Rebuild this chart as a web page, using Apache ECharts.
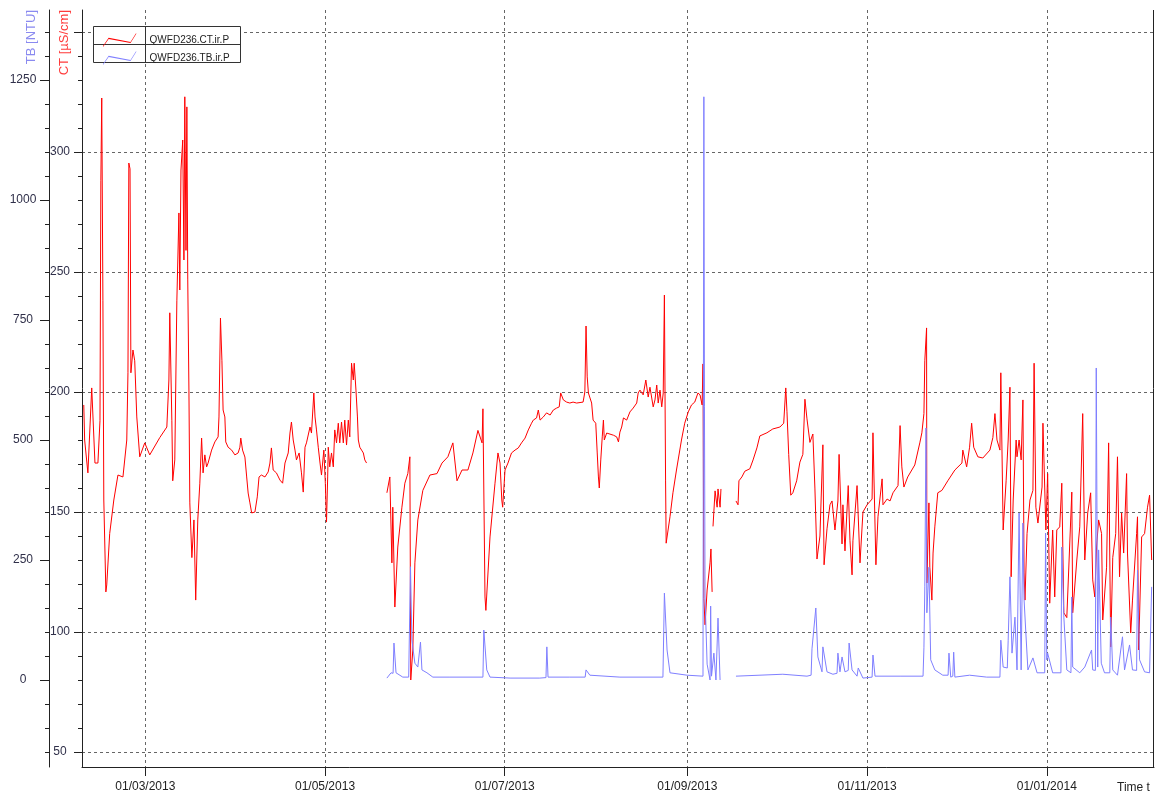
<!DOCTYPE html>
<html>
<head>
<meta charset="utf-8">
<script src="https://cdn.jsdelivr.net/npm/echarts@6/dist/echarts.min.js"></script>
<style>
html, body { margin: 0; padding: 0; background: #fff; }
#main { width: 1157px; height: 793px; }
</style>
</head>
<body>
<div id="main"></div>
<script>
// x values: days counted from 01/03/2013
var ctPoints = [
    [-20.9,194.6],[-20.6,180],[-19.5,166.3],[-18.2,201.7],[-17.1,170.4],[-16.1,170.4],[-15.4,188],[-15.1,288],[-14.8,322.5],
    [-14.4,238],[-14.1,155],[-13.4,116.7],[-13.1,119.6],[-12.1,141],[-10.7,155],[-9.3,165.4],[-7.6,164.6],[-6.3,180],
    [-5.9,208],[-5.6,295.4],[-5.2,293],[-4.9,208],[-4.2,217.5],[-3.6,213],[-2.9,189.6],[-1.9,173],[-0.2,178.8],[1.5,173.8],
    [4.9,181],[7.3,185.4],[8.0,205],[8.3,233],[9.0,188],[9.3,163],[10.0,171.7],[10.7,238],[11.4,274.6],[11.7,242.5],
    [12.1,292.5],[12.7,305],[13.1,255],[13.4,323],[13.8,259],[14.1,318.8],[14.4,246.7],[14.8,200.8],[15.1,153.8],[15.8,131],
    [16.5,146.7],[17.1,113.3],[17.8,146.7],[18.5,162],[19.1,180.8],[19.6,166.3],[20.2,173.8],[20.8,168.8],[21.3,170.4],
    [22.5,175.8],[23.6,179.2],[24.7,181.3],[25.0,189.6],[25.5,230.8],[26.0,213],[26.4,192.5],[27.0,189.6],[27.3,179.2],
    [28.1,177],[29.3,175.8],[30.4,173.8],[31.5,174.6],[32.1,177],[32.4,180.8],[33.0,175.8],[33.8,172.9],[34.4,164.6],
    [34.9,157.9],[35.5,153.8],[36.1,149.6],[37.2,150],[38.0,156.3],[38.6,164.6],[39.4,165.4],[40.6,164.6],[41.7,166.7],
    [42.3,170.4],[42.8,176.7],[43.4,167.5],[44.5,166.3],[45.7,163.3],[46.6,162],[47.4,170.4],[48.5,174.6],[49.1,182.9],
    [49.6,187.5],[50.2,180],[50.8,175.8],[51.3,171.7],[52.2,174.6],[53.0,166.3],[53.6,158.3],[54.2,177],[54.7,178.8],
    [55.9,185.4],[56.4,182.9],[57.2,199.6],[57.6,189.6],[58.1,184.2],[58.7,177],[59.3,170.4],[59.8,165.4],[60.6,175.8],
    [61.1,162],[61.5,145.8],[61.9,164.6],[62.1,177],[62.6,168.8],[63.2,174.6],[63.8,168.8],[64.3,184.2],[64.9,178.8],
    [65.5,187],[66.0,178.8],[66.6,187.5],[67.2,178.8],[67.7,188.3],[68.3,177.9],[68.9,188.3],[69.4,181.3],[70.0,212],
    [70.6,205],[70.9,212],[71.5,200.8],[72.0,189.6],[72.3,180],[72.8,177],[73.4,175.8],[74.0,174.6],[74.5,171.7],
    [75.1,170.4],[78,null],
    [82.0,158],[83.0,164.6],[83.7,128.8],[84.0,152],[84.7,110.4],[85.7,135.4],[87.1,152],[88.1,162],[89.1,166],[89.8,173],
    [90.1,80],[90.8,92.5],[91.5,128.8],[92.5,146.7],[94.2,159],[96.6,165.4],[99.0,166],[100.7,170.4],[102.7,173],[104.4,178.8],
    [105.8,163],[107.5,167.5],[109.5,167.5],[111.2,174.6],[112.9,184],[114.3,178.8],[114.6,193],[115.3,114.6],[115.6,109],
    [117.0,139.6],[118.7,162],[119.7,174.6],[120.4,170.4],[121.0,155],[121.3,152],[122.1,167.5],[123.1,170.4],[124.3,174.6],
    [125.5,175.8],[126.6,176.7],[127.7,178.8],[128.9,180.8],[130.0,184.2],[131.1,187],[131.7,188.3],[132.8,189.2],[133.4,192.5],
    [134.0,188.3],[135.1,189.6],[136.2,191.3],[137.4,190.4],[138.5,192.5],[139.6,193.3],[140.5,193.8],[141.0,199.6],
    [141.9,196.7],[143.0,195.8],[144.1,195.4],[145.2,195.8],[146.4,195.4],[148.6,195.8],[149.2,200],[149.6,227.5],
    [150.0,206.3],[150.4,199.6],[150.9,200],[151.5,195.4],[152.0,188.3],[152.9,187],[153.4,174.6],[153.8,164.6],[154.1,160],
    [154.6,171.7],[155.1,181.3],[155.5,188.3],[155.8,180],[156.6,182.9],[158.9,182],[160.0,181.3],[160.6,179.2],[161.1,183.3],
    [161.7,185.4],[162.3,189.2],[163.4,188.3],[164.5,191.7],[165.6,193.3],[166.8,195.4],[167.3,199.6],[167.9,200.8],
    [169.0,198.8],[169.9,205],[170.7,197.9],[171.3,202],[172.4,193.8],[173.0,196.7],[173.6,202.9],[174.1,195.4],[174.7,200.8],
    [175.3,193.8],[175.8,199.6],[176.2,240.4],[176.6,163.3],[176.8,137],[178.1,148],[179.1,158],[180.3,167.5],[182.0,180],
    [183.1,187],[184.3,191.7],[185.4,194.6],[186.5,195.8],[187.6,199.6],[188.3,198.8],[189.0,194.6],[189.3,211.7],[189.6,114],
    [190.0,103],[190.7,117.5],[191.7,128.8],[192.0,134.6],[192.4,116.7],[192.55,null],[192.7,144],[193.4,158.8],[194.1,152],
    [194.4,159.6],[195.1,152],[195.4,159.6],[198,null],
    [200.5,154.6],[201.2,153],[201.5,163],[202.5,164.6],[203.5,167],[205.2,168],[206.3,171.7],[207.6,176.7],[208.6,181.7],
    [211.0,183],[213.0,184.6],[215.4,185.4],[216.7,187],[217.4,201.7],[217.8,192],[218.4,174],[219.1,157],[219.8,158],
    [221.1,163],[222.2,170.8],[223.2,174],[223.9,197],[224.6,188.8],[225.6,179],[226.6,182.5],[227.3,159.6],[228.0,130.4],
    [229.0,140],[230.0,178],[230.4,128],[231.4,143],[232.4,153],[233.1,154.6],[234.1,142.5],[235.1,154.6],[235.5,174],
    [236.5,136.7],[236.8,153],[237.5,133.8],[238.6,161],[239.2,138],[239.9,123.8],[240.2,138],[241.6,161],[242.6,128.8],
    [243.6,150],[245.0,153],[246.7,155.4],[247.0,183],[248.0,128],[248.7,148],[250.1,163.8],[250.4,153],[251.8,155.4],
    [252.8,154.6],[253.8,158],[255.5,161],[256.2,186],[256.8,168.8],[257.5,160.4],[258.8,164.6],[261.2,169.6],[262.9,178.8],
    [263.6,183],[264.3,191],[264.6,213],[265.2,226.7],[265.3,120.4],[266.0,153.8],[266.3,127],[267.0,113.3],[267.4,132.9],
    [268.0,143.8],[269.0,158],[270.4,159],[272.4,163],[274.8,167.5],[277.2,170.4],[277.5,175.8],[278.8,168.8],[279.8,177],
    [280.5,187],[281.2,177],[282.6,173],[284.3,172.5],[286.7,175.8],[287.7,181],[288.4,191],[289.1,180],[290.1,175.8],
    [290.4,208],[291.2,142.5],[292.2,163],[292.9,180],[293.5,202],[293.9,123],[294.6,155],[295.6,180],[295.9,173],[296.6,180],
    [297.3,171.7],[297.9,196.7],[298.3,124.6],[298.6,113.3],[299.3,141],[300.3,155],[301.3,159],[301.7,212],[302.3,152],
    [303.0,145.4],[304.4,160.4],[304.7,187],[305.7,142.5],[306.3,166],[307.0,112],[308.0,142.5],[308.7,114.6],[309.4,142.5],
    [310.4,143.8],[311.1,162],[311.8,108],[312.8,106],[314.5,158.3],[314.8,108],[316.2,130],[317.2,143.8],[318.2,191],
    [318.9,130],[319.9,149.6],[320.9,158],[321.6,121.7],[322.3,114.6],[322.9,135.4],[323.6,146.7],[324.6,141],[325.0,105],
    [326.3,127],[327.0,178.8],[327.7,93.8],[328.4,131],[329.4,141],[330.0,173],[330.7,123],[331.4,149.6],[332.1,132.9],
    [333.1,166],[333.4,132.9],[334.5,99.6],[335.1,113.3],[336.5,141],[336.8,148],[337.2,92.5],[338.2,139.6],[339.2,141],
    [340.2,152],[340.9,157],[341.6,130]
];

var tbPoints = [
    [82.0,4],[83.4,15],[84.1,14],[84.4,77],[85.1,15],[87.4,6],[89.4,6],[89.8,6],[90.0,236],[90.5,83],[91.5,35],[92.5,27],
    [93.1,25],[93.4,79],[93.9,21],[95.6,15],[97.6,6],[103.4,6],[114.6,6],[114.9,104],[115.9,21],[117.0,6],[123.8,4],
    [133.9,4],[136.0,5],[136.3,69],[136.7,6],[144.1,6],[149.3,6],[149.6,21],[150.9,10],[161.1,6],[175.7,6],[176.2,181],
    [176.7,181],[177.1,62.5],[178.1,15],[183.9,10],[189.3,8],[189.6,1215],[189.8,569],[190.0,171],[190.7,33],[191.7,0],
    [191.9,154],[192.2,8],[193.0,56],[193.7,0],[194.4,129],[195.1,0],[198,null],
    [200.5,8],[216.4,12],[224.6,8],[226.0,10],[226.3,65],[227.6,150],[228.3,48],[229.7,17],[230.0,69],[231.4,17],[233.4,12],
    [234.8,14],[235.1,56],[235.8,17],[236.5,48],[237.5,17],[238.6,20],[238.9,77],[239.9,21],[241.6,8],[242.0,25],[243.6,4],
    [246.7,6],[247.0,52],[247.7,8],[256.2,8],[264.0,8],[264.3,67],[264.6,194],[265.0,525],[265.3,140],[266.0,235],
    [266.6,42],[268.0,21],[270.7,10],[272.5,10],[272.8,56],[273.4,6],[274.1,8],[274.4,58],[274.8,6],[279.8,10],[285.6,6],
    [290.1,6],[290.4,83],[291.2,27],[292.6,25],[292.9,83],[293.5,215],[294.2,56],[295.2,131],[295.9,21],[296.3,20],
    [296.6,348],[297.3,21],[297.6,20],[297.9,327],[298.3,167],[298.9,98],[299.6,21],[301.3,46],[302.7,15],[305.3,15],
    [305.6,306],[306.0,42],[306.3,56],[308.0,15],[310.8,15],[311.1,277],[311.8,131],[312.8,21],[314.2,15],[314.5,173],
    [314.8,27],[317.2,15],[318.9,27],[321.2,62.5],[321.6,21],[322.5,20],[322.8,650],[323.3,27],[323.6,271],[324.5,35],
    [325.6,15],[327.4,15],[327.7,131],[328.4,21],[330.0,10],[331.7,90],[332.4,21],[334.1,73],[335.1,21],[336.5,20],
    [336.8,229],[337.5,42],[339.2,17],[340.9,15],[341.3,15],[341.6,194]
];

var xTickLabels = ['01/03/2013', '01/05/2013', '01/07/2013', '01/09/2013', '01/11/2013', '01/01/2014'];
var ctTickValues = [50, 100, 150, 200, 250, 300, 350];
var ctLabelValues = [50, 100, 150, 200, 250, 300];
var tbTickValues = [0, 250, 500, 750, 1000, 1250];

var day0 = new Date(2013, 2, 1).getTime();
function toTime(d) {
    return day0 + d * 86400000;
}
function parseDate(s) {
    var p = s.split('/');
    return new Date(+p[2], +p[1] - 1, +p[0]).getTime();
}
function pad(n) {
    return n < 10 ? '0' + n : '' + n;
}
function steps(from, to, step) {
    var out = [];
    for (var v = from; v <= to; v += step) out.push(v);
    return out;
}
function plain(v) {
    return String(Math.round(v));
}

var xTicks = xTickLabels.map(parseDate);
var ctMinor = steps(50, 350, 10);
var tbMinor = steps(-150, 1350, 50);

var font = "'Liberation Sans', Arial, sans-serif";
var axisColor = '#222';
var labelColor = '#30304a';
var gridDash = { color: '#666', type: [3, 3], width: 1 };

var chart = echarts.init(document.getElementById('main'));

var option = {
    animation: false,
    backgroundColor: '#fff',
    grid: {
        left: 82, right: 3, top: 10, bottom: 26,
        outerBoundsMode: 'none'
    },
    legend: {
        left: 98,
        top: 28,
        orient: 'vertical',
        itemWidth: 42,
        itemHeight: 14,
        itemGap: 4,
        z: 10,
        icon: 'path://M0,16L7,6L34,11L41,0L41,1.3L34,12.3L7,7.3L0,17.3Z',
        textStyle: { fontSize: 10, fontFamily: font, color: '#222', padding: [0, 0, 0, 4] },
        data: ['QWFD236.CT.ir.P', 'QWFD236.TB.ir.P']
    },
    xAxis: {
        // time held as millisecond values
        type: 'value',
        min: toTime(-21.5),
        max: toTime(342.4),
        axisLine: { onZero: false, lineStyle: { color: axisColor } },
        axisTick: { customValues: xTicks, length: 9, lineStyle: { color: axisColor } },
        axisLabel: {
            customValues: xTicks,
            margin: 14,
            fontSize: 12,
            fontFamily: font,
            color: '#222',
            formatter: function (v) {
                var d = new Date(v);
                return pad(d.getDate()) + '/' + pad(d.getMonth() + 1) + '/' + d.getFullYear();
            }
        },
        splitLine: { show: true, lineStyle: gridDash }
    },
    yAxis: [
        {
            // CT, inner axis
            type: 'value',
            position: 'left',
            min: 43.75,
            max: 359.17,
            axisLine: { show: true, onZero: false, lineStyle: { color: axisColor } },
            axisTick: { customValues: ctTickValues, length: 8, lineStyle: { color: axisColor } },
            axisLabel: {
                customValues: ctLabelValues,
                margin: 22,
                align: 'center',
                fontSize: 12,
                fontFamily: font,
                color: labelColor,
                formatter: plain
            },
            splitLine: { show: true, lineStyle: gridDash }
        },
        {
            // CT minor ticks
            type: 'value',
            position: 'left',
            min: 43.75,
            max: 359.17,
            axisLine: { show: false },
            axisTick: { customValues: ctMinor, length: 4, lineStyle: { color: axisColor } },
            axisLabel: { show: false },
            splitLine: { show: false }
        },
        {
            // TB, outer axis
            type: 'value',
            position: 'left',
            offset: 33,
            min: -181.25,
            max: 1395.83,
            axisLine: { show: true, onZero: false, lineStyle: { color: axisColor } },
            axisTick: { customValues: tbTickValues, length: 9, lineStyle: { color: axisColor } },
            axisLabel: {
                customValues: tbTickValues,
                margin: 26,
                align: 'center',
                fontSize: 12,
                fontFamily: font,
                color: labelColor,
                formatter: plain
            },
            splitLine: { show: false }
        },
        {
            // TB minor ticks
            type: 'value',
            position: 'left',
            offset: 33,
            min: -181.25,
            max: 1395.83,
            axisLine: { show: false },
            axisTick: { customValues: tbMinor, length: 4, lineStyle: { color: axisColor } },
            axisLabel: { show: false },
            splitLine: { show: false }
        }
    ],
    graphic: [
        { type: 'line', z: 5, shape: { x1: 1153.5, y1: 10, x2: 1153.5, y2: 767 }, style: { stroke: axisColor, lineWidth: 1 } },
        { type: 'rect', z: 5, shape: { x: 93.5, y: 26.5, width: 147, height: 36 }, style: { fill: '#fff', stroke: '#333', lineWidth: 1 } },
        { type: 'line', z: 6, shape: { x1: 93.5, y1: 44.5, x2: 240.5, y2: 44.5 }, style: { stroke: '#333', lineWidth: 1 } },
        { type: 'line', z: 6, shape: { x1: 145.5, y1: 26.5, x2: 145.5, y2: 62.5 }, style: { stroke: '#333', lineWidth: 1 } },
        {
            type: 'text', z: 6, x: 31, y: 10, rotation: Math.PI / 2,
            style: { text: 'TB [NTU]', fill: '#8a8af0', font: '13px ' + font, textAlign: 'right', textVerticalAlign: 'middle' }
        },
        {
            type: 'text', z: 6, x: 64, y: 10, rotation: Math.PI / 2,
            style: { text: 'CT [µS/cm]', fill: '#ff3b3b', font: '13px ' + font, textAlign: 'right', textVerticalAlign: 'middle' }
        },
        {
            type: 'text', z: 6, x: 1117, y: 788,
            style: { text: 'Time t', fill: '#222', font: '12px ' + font, textVerticalAlign: 'middle' }
        }
    ],
    series: [
        {
            name: 'QWFD236.CT.ir.P',
            type: 'line',
            yAxisIndex: 0,
            showSymbol: false,
            connectNulls: false,
            color: '#ff0000',
            lineStyle: { width: 1, color: '#ff0000' },
            data: ctPoints.map(function (p) { return [toTime(p[0]), p[1]]; })
        },
        {
            name: 'QWFD236.TB.ir.P',
            type: 'line',
            yAxisIndex: 2,
            showSymbol: false,
            connectNulls: false,
            color: '#7f7fff',
            lineStyle: { width: 1, color: '#7f7fff' },
            data: tbPoints.map(function (p) { return [toTime(p[0]), p[1]]; })
        }
    ]
};

chart.setOption(option);
</script>
</body>
</html>
